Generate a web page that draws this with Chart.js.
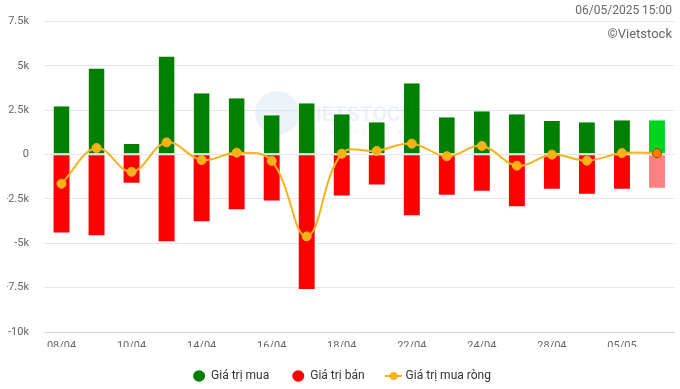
<!DOCTYPE html>
<html>
<head>
<meta charset="utf-8">
<script src="https://cdn.jsdelivr.net/npm/chart.js@4"></script>
<style>
  html, body { margin: 0; padding: 0; background: #fff; }
  #wrap { width: 680px; height: 389px; position: relative; }
</style>
</head>
<body>
<div id="wrap"><canvas id="myChart"></canvas></div>
<script>
const dayLabels = ['08/04', '09/04', '10/04', '11/04', '14/04', '15/04', '16/04', '17/04', '18/04',
    '21/04', '22/04', '23/04', '24/04', '25/04', '28/04', '29/04', '05/05', '06/05'];
const buyValues = [2730, 4860, 600, 5530, 3460, 3180, 2220, 2900, 2280, 1830, 4020, 2110, 2450, 2280, 1890, 1830, 1940, 1940];
const sellValues = [-4390, -4540, -1590, -4890, -3750, -3080, -2580, -7580, -2310, -1680, -3420, -2260, -2030, -2910, -1920, -2200, -1920, -1870];
const netValues = [-1640, 370, -970, 690, -300, 110, -350, -4610, 50, 210, 620, -90, 490, -620, 0, -340, 90, 80];
const yTicks = [-10000, -7500, -5000, -2500, 0, 2500, 5000, 7500];

Chart.defaults.font.family = 'Roboto';

const last = dayLabels.length - 1;
const buyColors = dayLabels.map((d, i) => i === last ? '#00d420' : '#008000');
const sellColors = dayLabels.map((d, i) => i === last ? '#ff8080' : '#ff0000');
const netFill = dayLabels.map((d, i) => i === last ? '#ff7f00' : '#f9b21a');
const netBorder = dayLabels.map((d, i) => i === last ? '#9a4a00' : '#f9b21a');

// legend icon for the line series
const lineIcon = document.createElement('canvas');
lineIcon.width = 17;
lineIcon.height = 10;
(function () {
    const c = lineIcon.getContext('2d');
    c.strokeStyle = '#f9b21a';
    c.lineWidth = 2;
    c.beginPath();
    c.moveTo(0, 5);
    c.lineTo(17, 5);
    c.stroke();
    c.fillStyle = '#f9b21a';
    c.beginPath();
    c.arc(8.5, 5, 4, 0, Math.PI * 2);
    c.fill();
})();

const extraText = {
    id: 'extraText',
    beforeDatasetsDraw(chart) {
        const ctx = chart.ctx;
        ctx.save();
        // faint watermark
        ctx.fillStyle = 'rgba(210,222,238,0.4)';
        ctx.beginPath();
        ctx.arc(277, 113, 22, 0, Math.PI * 2);
        ctx.fill();
        ctx.font = 'bold 21px Roboto';
        ctx.textAlign = 'left';
        ctx.textBaseline = 'middle';
        ctx.fillText('VIETSTOCK', 302, 116);
        ctx.font = '9px Roboto';
        ctx.fillText('t r a c k i n g   t h e   w a y', 318, 132);
        ctx.restore();
    },
    afterDraw(chart) {
        const ctx = chart.ctx;
        ctx.save();
        ctx.fillStyle = '#666666';
        ctx.textAlign = 'right';
        ctx.textBaseline = 'middle';
        ctx.font = '12px Roboto';
        ctx.fillText('06/05/2025 15:00', 672, 11);
        ctx.font = '13px Roboto';
        ctx.fillText('©Vietstock', 672, 35);
        ctx.restore();
    }
};

new Chart(document.getElementById('myChart').getContext('2d'), {
    type: 'bar',
    data: {
        labels: dayLabels,
        datasets: [
            {
                label: 'Giá trị mua',
                data: buyValues,
                backgroundColor: buyColors,
                borderColor: '#ffffff',
                borderWidth: { top: 0, left: 0, right: 0, bottom: 1 },
                borderSkipped: false,
                stack: 'gt',
                order: 2
            },
            {
                label: 'Giá trị bán',
                data: sellValues,
                backgroundColor: sellColors,
                borderWidth: 0,
                stack: 'gt',
                order: 2
            },
            {
                type: 'line',
                label: 'Giá trị mua ròng',
                data: netValues,
                borderColor: '#f9b21a',
                backgroundColor: '#f9b21a',
                pointBackgroundColor: netFill,
                pointBorderColor: netBorder,
                pointBorderWidth: 1,
                pointRadius: 4.5,
                pointHoverRadius: 4.5,
                borderWidth: 2,
                tension: 0.4,
                stack: 'net',
                order: 1
            }
        ]
    },
    options: {
        responsive: true,
        maintainAspectRatio: false,
        animation: false,
        layout: {
            padding: { top: 19, left: 7, right: 3, bottom: 0 }
        },
        datasets: {
            bar: { barPercentage: 0.455, categoryPercentage: 1 }
        },
        plugins: {
            tooltip: { enabled: false },
            legend: {
                position: 'bottom',
                maxHeight: 42,
                labels: {
                    usePointStyle: true,
                    pointStyleWidth: 12,
                    boxHeight: 8,
                    padding: 23,
                    color: '#333333',
                    font: { size: 12 },
                    sort: (a, b) => a.datasetIndex - b.datasetIndex,
                    generateLabels(chart) {
                        const items = Chart.defaults.plugins.legend.labels.generateLabels(chart);
                        items.forEach(it => {
                            it.lineWidth = 0;
                            if (it.datasetIndex === 0) { it.fillStyle = '#008000'; }
                            if (it.datasetIndex === 1) { it.fillStyle = '#ff0000'; }
                            if (it.datasetIndex === 2) { it.pointStyle = lineIcon; }
                        });
                        return items;
                    }
                }
            }
        },
        scales: {
            x: {
                stacked: true,
                grid: { display: false, drawTicks: false },
                border: { color: '#ccd6eb' },
                ticks: {
                    autoSkip: false,
                    maxRotation: 0,
                    padding: 8,
                    color: '#666666',
                    font: { size: 11 },
                    callback: function (v, i) { return i % 2 === 0 ? dayLabels[i] : ''; }
                },
                afterFit: function (scale) {
                    scale.height = 15;
                    scale.paddingLeft = 0;
                    scale.paddingRight = 0;
                }
            },
            y: {
                stacked: true,
                min: -10000,
                max: 7500,
                afterBuildTicks: function (scale) { scale.ticks = yTicks.map(v => ({ value: v })); },
                afterFit: function (scale) { scale.width = 37; },
                grid: { color: '#e6e6e6', drawTicks: false },
                border: { display: false },
                ticks: {
                    padding: 15,
                    color: '#666666',
                    font: { size: 11 },
                    callback: function (v) { return v === 0 ? '0' : (v / 1000) + 'k'; }
                }
            }
        }
    },
    plugins: [extraText]
});
</script>
</body>
</html>
